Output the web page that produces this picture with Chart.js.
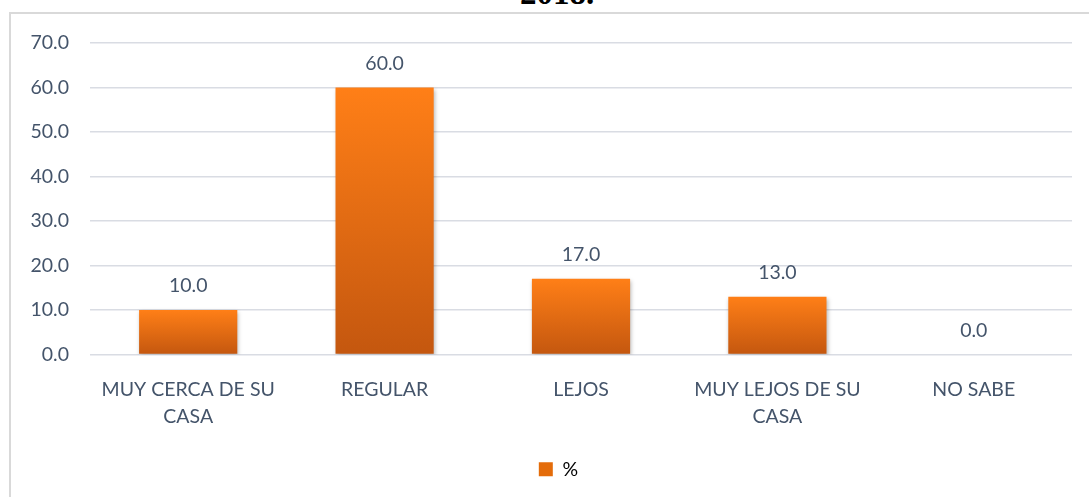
<!DOCTYPE html>
<html>
<head>
<meta charset="utf-8">
<script src="https://cdn.jsdelivr.net/npm/chart.js@4.4.1/dist/chart.umd.min.js"></script>
<style>
  html, body { margin:0; padding:0; width:1089px; height:497px; overflow:hidden; background:#fff; }
  #title { position:absolute; left:0; width:1089px; top:-23px; text-align:center; font-family:"Liberation Serif","Times New Roman",serif; font-weight:bold; font-size:33px; line-height:33px; color:#000; padding-left:25px; box-sizing:border-box; }
  #box { position:absolute; left:9px; top:12px; width:1090px; height:500px; border-left:2px solid #D9D9D9; border-top:2px solid #D9D9D9; box-sizing:border-box; }
  #wrap { position:absolute; left:11px; top:14px; width:1078px; height:483px; }
</style>
</head>
<body>
<div id="title">2018.</div>
<div id="box"></div>
<div id="wrap"><canvas id="c"></canvas></div>
<script>
const categories = [["MUY CERCA DE SU","CASA"], "REGULAR", "LEJOS", ["MUY LEJOS DE SU","CASA"], "NO SABE"];
const seriesName = "%";
const values = [10.0, 60.0, 17.0, 13.0, 0.0];
const yTicks = [0, 10, 20, 30, 40, 50, 60, 70];

const textColor = "#44546A";
const fontFamily = "Lato, 'Open Sans', sans-serif";
const fontSize = 19.5;

function barGradient(ctx) {
  const chart = ctx.chart;
  const area = chart.chartArea;
  if (!area) return "#E46C0A";
  const y = chart.scales.y;
  const v = ctx.parsed ? ctx.parsed.y : null;
  if (v === null || v === undefined) return "#E46C0A";
  const top = y.getPixelForValue(v);
  const bottom = y.getPixelForValue(0);
  if (Math.abs(bottom - top) < 1) return "#E46C0A";
  const g = chart.ctx.createLinearGradient(0, top, 0, bottom);
  g.addColorStop(0, "#FF7F17");
  g.addColorStop(1, "#C4570F");
  return g;
}

const valueLabels = {
  id: "valueLabels",
  afterDatasetsDraw(chart) {
    const ctx = chart.ctx;
    const meta = chart.getDatasetMeta(0);
    ctx.save();
    ctx.fillStyle = textColor;
    ctx.font = fontSize + "px " + fontFamily;
    ctx.textAlign = "center";
    ctx.textBaseline = "middle";
    meta.data.forEach((el, i) => {
      ctx.fillText(values[i].toFixed(1), el.x, el.y - 24);
    });
    ctx.restore();
  }
};

const barShadow = {
  id: "barShadow",
  beforeDatasetsDraw(chart) {
    const ctx = chart.ctx;
    ctx.save();
    ctx.shadowColor = "rgba(0,0,0,0.28)";
    ctx.shadowBlur = 4;
    ctx.shadowOffsetX = 1;
    ctx.shadowOffsetY = 2;
  },
  afterDatasetsDraw(chart) {
    chart.ctx.restore();
  }
};

const legendShift = {
  id: "legendShift",
  afterLayout(chart) {
    if (chart.legend) {
      chart.legend.left += 17;
      chart.legend.right += 17;
    }
  }
};

new Chart(document.getElementById("c"), {
  type: "bar",
  data: {
    labels: categories,
    datasets: [{
      label: seriesName,
      data: values,
      backgroundColor: barGradient,
      borderWidth: 0,
      categoryPercentage: 1.0,
      barPercentage: 0.5
    }]
  },
  options: {
    responsive: true,
    maintainAspectRatio: false,
    animation: false,
    layout: { padding: { left: 0, right: 17, top: 29, bottom: 8 } },
    plugins: {
      legend: {
        position: "bottom",
        labels: {
          color: textColor,
          font: { size: fontSize, family: fontFamily },
          boxWidth: 14,
          boxHeight: 14,
          padding: 10,
          generateLabels(chart) {
            return [{ text: seriesName, fillStyle: "#E46C0A", strokeStyle: "rgba(0,0,0,0)", lineWidth: 0, datasetIndex: 0 }];
          }
        }
      },
      tooltip: { enabled: false }
    },
    scales: {
      x: {
        grid: { display: false, drawTicks: false },
        border: { display: false },
        ticks: {
          color: textColor,
          font: { size: fontSize, family: fontFamily, lineHeight: 1.42 },
          padding: 21,
          maxRotation: 0,
          autoSkip: false
        },
        afterFit(s) { s.height = 95; s.paddingLeft = 0; s.paddingRight = 0; }
      },
      y: {
        min: 0,
        max: 70,
        afterBuildTicks(s) { s.ticks = yTicks.map(v => ({ value: v })); },
        grid: { color: "#D9DCE3", lineWidth: 1.6, drawTicks: false },
        border: { display: false },
        ticks: {
          color: textColor,
          font: { size: fontSize, family: fontFamily },
          padding: 21,
          callback: v => Number(v).toFixed(1)
        },
        afterFit(s) { s.width = 79; s.paddingTop = 0; s.paddingBottom = 0; }
      }
    }
  },
  plugins: [barShadow, valueLabels, legendShift]
});
</script>
</body>
</html>
